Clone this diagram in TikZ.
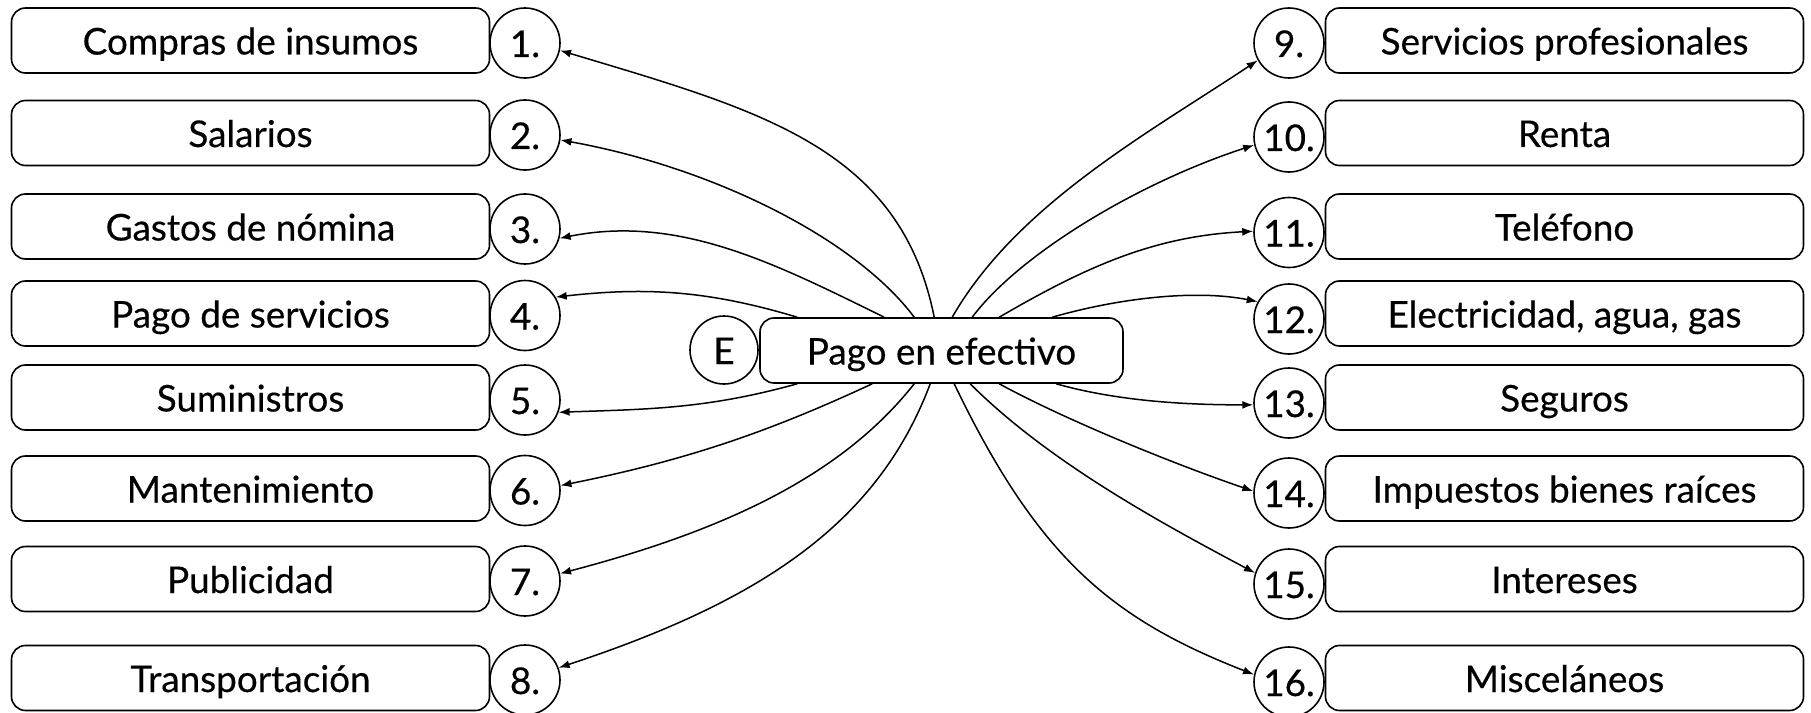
\documentclass[tikz,border=0pt]{standalone}
\usepackage{fontspec}
\setmainfont{Lato}[FakeBold=0.4]
\usetikzlibrary{arrows.meta}
\begin{document}
\begin{tikzpicture}[x=1bp,y=-1bp,
  txt/.style={font=\fontsize{37}{40}\selectfont, text height=28bp, text depth=0bp},
  lbox/.style={draw, line width=1.6bp, rounded corners=14bp, minimum width=478bp,
    minimum height=65bp, inner sep=0pt, txt},
  num/.style={draw, circle, line width=1.6bp, minimum size=70bp, inner sep=0pt, txt},
  conn/.style={line width=1.5bp, -{Latex[length=11bp,width=8bp]}}]
\useasboundingbox (0,0) rectangle (1811,713);
% left column
\node[lbox] (b1) at (250.5,40.5) {Compras de insumos};
\node[lbox] (b2) at (250.5,133) {Salarios};
\node[lbox] (b3) at (250.5,226.5) {Gastos de nómina};
\node[lbox] (b4) at (250.5,313.5) {Pago de servicios};
\node[lbox] (b5) at (250.5,397.5) {Suministros};
\node[lbox] (b6) at (250.5,488.5) {Mantenimiento};
\node[lbox] (b7) at (250.5,579) {Publicidad};
\node[lbox] (b8) at (250.5,678) {Transportación};
\node[num] (c1) at (525,43) {1.};
\node[num] (c2) at (525,135) {2.};
\node[num] (c3) at (525,229) {3.};
\node[num] (c4) at (525,315.5) {4.};
\node[num] (c5) at (525,400) {5.};
\node[num] (c6) at (525,490.5) {6.};
\node[num] (c7) at (525,581) {7.};
\node[num] (c8) at (525,680) {8.};
% right column
\node[lbox] (b9) at (1564.5,40.5) {Servicios profesionales};
\node[lbox] (b10) at (1564.5,133) {Renta};
\node[lbox] (b11) at (1564.5,226.5) {Teléfono};
\node[lbox] (b12) at (1564.5,313.5) {Electricidad, agua, gas};
\node[lbox] (b13) at (1564.5,397.5) {Seguros};
\node[lbox] (b14) at (1564.5,488.5) {Impuestos bienes raíces};
\node[lbox] (b15) at (1564.5,579) {Intereses};
\node[lbox] (b16) at (1564.5,678) {Misceláneos};
\node[num] (c9) at (1289,43) {9.};
\node[num] (c10) at (1289,137) {10.};
\node[num] (c11) at (1289,232.5) {11.};
\node[num] (c12) at (1289,319) {12.};
\node[num] (c13) at (1289,403) {13.};
\node[num] (c14) at (1289,493) {14.};
\node[num] (c15) at (1289,584) {15.};
\node[num] (c16) at (1289,682) {16.};
% centre
\node[num, minimum size=68bp] (e) at (724,350) {E};
\node[lbox, minimum width=363bp] (pago) at (941.5,350.5) {Pago en efectivo};
% connectors left
\draw[conn] ([xshift=175bp]pago.north west) .. controls +(-34,-170) and +(200,60) .. (c1.-12);
\draw[conn] ([xshift=155bp]pago.north west) .. controls +(-60,-80) and +(150,27) .. (c2.-8);
\draw[conn] ([xshift=125bp]pago.north west) .. controls +(-108,-53) and +(120,-24) .. (c3.-15);
\draw[conn] ([xshift=38bp]pago.north west) .. controls +(-90,-27) and +(90,-10) .. (c4.31);
\draw[conn] ([xshift=38bp]pago.south west) .. controls +(-90,25) and +(90,-3) .. (c5.-20);
\draw[conn] ([xshift=113bp]pago.south west) .. controls +(-99,46) and +(130,-26) .. (c6.8);
\draw[conn] ([xshift=155bp]pago.south west) .. controls +(-74,94) and +(160,-42) .. (c7.12);
\draw[conn] ([xshift=171bp]pago.south west) .. controls +(-53,141) and +(200,-66) .. (c8.20);
% connectors right
\draw[conn] ([xshift=193bp]pago.north west) .. controls +(65,-113) and +(-108,72) .. (c9.209);
\draw[conn] ([xshift=213bp]pago.north west) .. controls +(48,-64) and +(-114,37) .. (c10.193);
\draw[conn] ([xshift=240bp]pago.north west) .. controls +(86,-50) and +(-100,5) .. (c11.178);
\draw[conn] ([xshift=293bp]pago.north west) .. controls +(70,-20) and +(-60,-12) .. (c12.151);
\draw[conn] ([xshift=297bp]pago.south west) .. controls +(60,17) and +(-70,0) .. (c13.183);
\draw[conn] ([xshift=240bp]pago.south west) .. controls +(70,38) and +(-76,-26) .. (c14.177);
\draw[conn] ([xshift=211bp]pago.south west) .. controls +(80,80) and +(-88,-47) .. (c15.162);
\draw[conn] ([xshift=195bp]pago.south west) .. controls +(85,177) and +(-140,-55) .. (c16.168);
\end{tikzpicture}
\end{document}
